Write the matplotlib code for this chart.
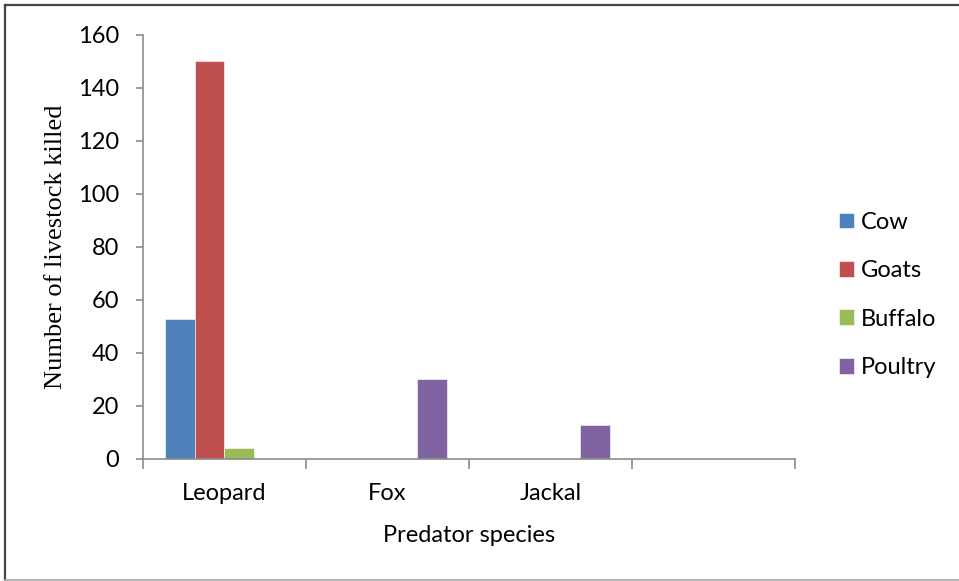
import matplotlib
matplotlib.use('Agg')
import matplotlib.pyplot as plt
import numpy as np
from matplotlib.lines import Line2D


## Livestock killed per predator

predators = ['Leopard', 'Fox', 'Jackal', '']
series = ['Cow', 'Goats', 'Buffalo', 'Poultry']
cow = [53, 0, 0, 0]
goats = [150, 0, 0, 0]
buffalo = [4, 0, 0, 0]
poultry = [0, 30, 13, 0]
colours = ['#4F81BD', '#C0504D', '#9BBB59', '#8064A2']


## Plot grouped bars

fig = plt.figure(figsize=(9.59, 5.81), dpi=100)
ax = fig.add_axes([0.149, 0.21, 0.68, 0.7298])

x = np.arange(len(predators))
w = 0.1825
for j, (name, vals) in enumerate(zip(series, [cow, goats, buffalo, poultry])):
    ax.bar(x + (j - 1.5) * w, vals, width=w, color=colours[j], label=name,
           edgecolor='white', linewidth=0.4)

axis_grey = '#8c8c8c'
ax.set_xlim(-0.5, len(predators) - 0.5)
ax.set_ylim(0, 160)
ax.set_yticks(range(0, 161, 20))
ax.set_xticks(x)
ax.set_xticklabels(predators, family='Lato', fontsize=17)
ax.set_xticks(np.arange(-0.5, len(predators)), minor=True)
ax.tick_params(axis='x', which='major', length=0, pad=17)
ax.tick_params(axis='x', which='minor', length=7, color=axis_grey, width=1.2)
ax.tick_params(axis='y', length=5, color=axis_grey, width=1.2, labelsize=17, pad=12)
for lbl in ax.get_yticklabels():
    lbl.set_family('Lato')

for side in ['top', 'right']:
    ax.spines[side].set_visible(False)
for side in ['left', 'bottom']:
    ax.spines[side].set_color(axis_grey)
    ax.spines[side].set_linewidth(1.2)

ax.set_ylabel('Number of livestock killed', family='Liberation Serif', fontsize=19)
ax.yaxis.set_label_coords(-0.116, 0.5)
ax.set_xlabel('Predator species', family='Lato', fontsize=17)
ax.xaxis.set_label_coords(0.5, -0.156)

ax.legend(loc='center left', bbox_to_anchor=(0.8525, 0.4925), bbox_transform=fig.transFigure,
          frameon=False, prop={'family': 'Lato', 'size': 17},
          handlelength=0.65, handleheight=0.65, handletextpad=0.3, labelspacing=1.16)

## Chart frame
fig.add_artist(Line2D([0.0055, 0.0055], [0.001, 0.9915], color='#444444', linewidth=1.6))
fig.add_artist(Line2D([0.0055, 1.0], [0.9915, 0.9915], color='#444444', linewidth=1.6))
fig.add_artist(Line2D([0.0055, 1.0], [0.0015, 0.0015], color='#aaaaaa', linewidth=1.2))

fig.savefig('out.png', dpi=100, facecolor='white')
